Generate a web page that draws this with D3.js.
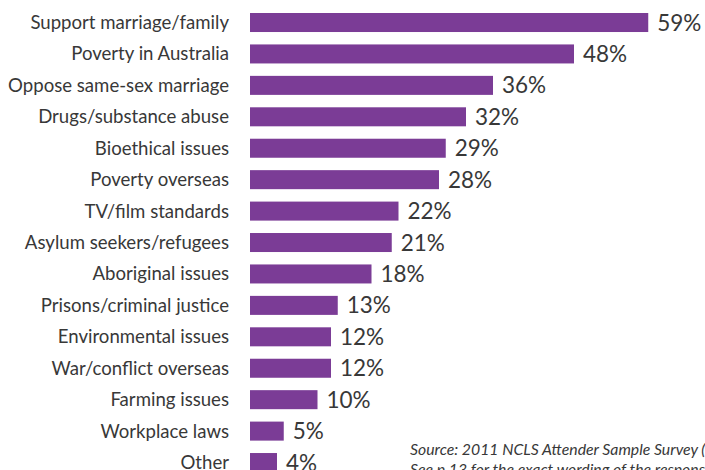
<!DOCTYPE html>
<html>
<head>
<meta charset="utf-8">
<script src="https://cdn.jsdelivr.net/npm/d3@7"></script>
<style>
  html, body { margin: 0; padding: 0; background: #fff; }
  svg { display: block; }
</style>
</head>
<body>
<svg id="chart" width="705" height="470"></svg>
<script>
const categories = [
  "Support marriage/family",
  "Poverty in Australia",
  "Oppose same-sex marriage",
  "Drugs/substance abuse",
  "Bioethical issues",
  "Poverty overseas",
  "TV/film standards",
  "Asylum seekers/refugees",
  "Aboriginal issues",
  "Prisons/criminal justice",
  "Environmental issues",
  "War/conflict overseas",
  "Farming issues",
  "Workplace laws",
  "Other"
];
const values = [59, 48, 36, 32, 29, 28, 22, 21, 18, 13, 12, 12, 10, 5, 4];
const sourceLines = [
  "Source: 2011 NCLS Attender Sample Survey (n=2,497)",
  "See p.13 for the exact wording of the responses."
];

const svg = d3.select("#chart");
const font = "Lato, 'Open Sans', sans-serif";
const barColor = "#7b3c96";
const textColor = "#383838";

const x = d3.scaleLinear().domain([0, 60]).range([250, 655]);
const y = d3.scaleBand()
  .domain(categories)
  .range([6.8, 6.8 + 15 * 31.43])
  .paddingInner(0.395)
  .paddingOuter(0.1975);

const data = categories.map((c, i) => ({ c, v: values[i] }));

svg.selectAll("rect.bar").data(data).join("rect")
  .attr("class", "bar")
  .attr("x", x(0))
  .attr("y", d => y(d.c))
  .attr("width", d => x(d.v) - x(0))
  .attr("height", y.bandwidth())
  .attr("fill", barColor);

svg.selectAll("text.cat").data(data).join("text")
  .attr("class", "cat")
  .attr("x", 229)
  .attr("y", d => y(d.c) + y.bandwidth() / 2)
  .attr("dy", "0.35em")
  .attr("text-anchor", "end")
  .attr("font-family", font)
  .attr("font-size", 18.6)
  .attr("fill", textColor)
  .text(d => d.c);

svg.selectAll("text.val").data(data).join("text")
  .attr("class", "val")
  .attr("x", d => x(d.v) + 9)
  .attr("y", d => y(d.c) + y.bandwidth() / 2)
  .attr("dy", "0.36em")
  .attr("font-family", font)
  .attr("font-size", 22.5)
  .attr("fill", textColor)
  .text(d => d.v + "%");

svg.selectAll("text.src").data(sourceLines).join("text")
  .attr("class", "src")
  .attr("x", 410)
  .attr("y", (d, i) => 455 + i * 19.5)
  .attr("font-family", font)
  .attr("font-size", 15.8)
  .attr("font-style", "italic")
  .attr("fill", textColor)
  .text(d => d);
</script>
</body>
</html>
